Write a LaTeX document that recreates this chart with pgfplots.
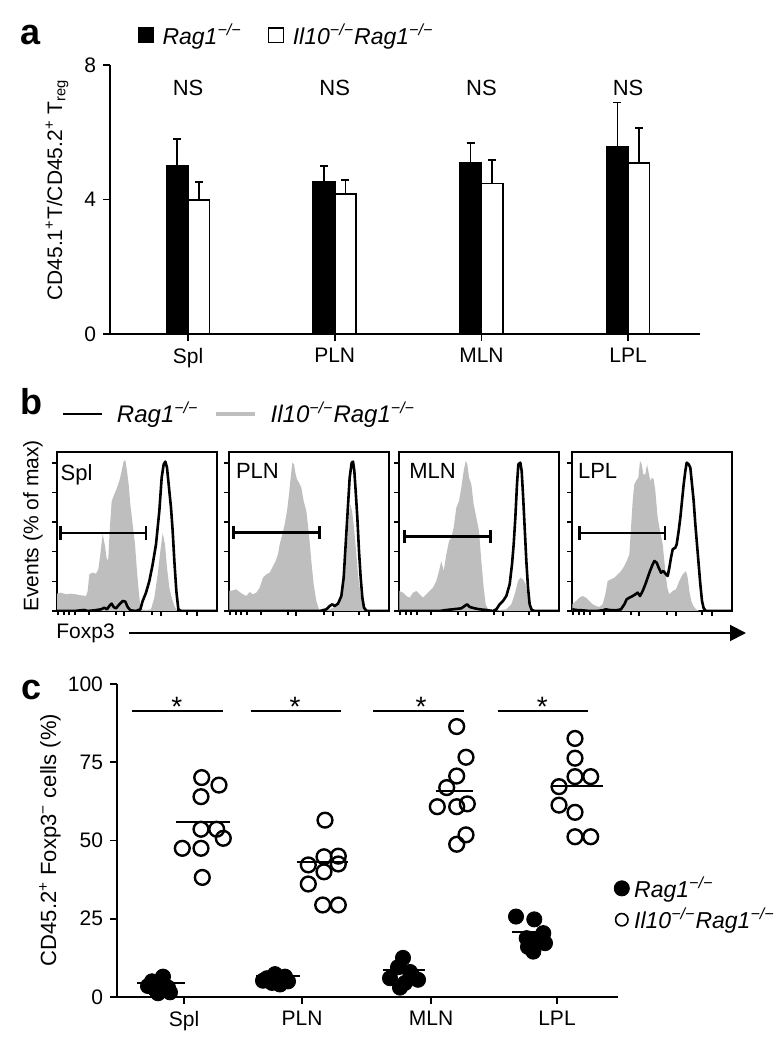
\documentclass[border=0pt]{standalone}
\usepackage{fontspec}
\setmainfont{Liberation Sans}
\usepackage{pgfplots}
\pgfplotsset{compat=1.18}
\usetikzlibrary{arrows.meta}
\definecolor{histgray}{RGB}{190,190,190}
\newcommand{\ko}{\textsuperscript{\textit{−/−}}}
\newcommand{\Rag}{\textit{Rag1}\ko}
\newcommand{\IlRag}{\textit{Il10}\ko\textit{Rag1}\ko}
\pgfplotsset{
 fig/.style={scale only axis, anchor=south west,
   font=\fontsize{10.5}{12}\selectfont,
   tick label style={font=\fontsize{10.5}{12}\selectfont},
   /pgf/number format/assume math mode=true,
   axis line style={line width=0.8pt},
   tick style={line width=0.8pt, black},
   major tick length=3.5pt, tick align=outside, clip=false},
 hist/.style={scale only axis, anchor=south west, width=80pt, height=79.5pt,
   xmin=8, xmax=488, ymin=0, ymax=477,
   axis line style={line width=1pt},
   xtick={209,320,428}, extra x ticks={11,29,44,62,104,185,293,398},
   extra x tick style={major tick length=1.8pt},
   extra x tick labels={},
   ytick={0,89,178,267,356,444}, xticklabels={}, yticklabels={},
   tick align=outside, major tick length=2.5pt,
   tick style={line width=0.6pt, black}, tick pos=left, clip=true,
   font=\fontsize{11}{12}\selectfont},
 gfill/.style={fill=histgray, draw=none, forget plot},
 bline/.style={black, line width=1.3pt, line join=round, forget plot},
 gate/.style={black, line width=1.3pt, forget plot},
}
\begin{document}
\begin{tikzpicture}
\path[use as bounding box] (0,0) rectangle (390pt,525pt);

% ---------------- panel a ----------------
\node[font=\fontsize{18}{20}\selectfont\bfseries, anchor=base] at (15.5pt,502.5pt) {a};
\node[rotate=90, font=\fontsize{10.5}{12}\selectfont] at (28.5pt,430pt)
  {CD45.1\textsuperscript{+}T/CD45.2\textsuperscript{+} T\textsubscript{reg}};
\begin{axis}[fig, at={(55pt,358pt)}, width=295pt, height=134.5pt,
  xmin=-0.532, xmax=3.49, ymin=0, ymax=8,
  axis x line*=bottom, axis y line*=left,
  xtick={0,1,2,3}, xticklabels={Spl,PLN,MLN,LPL}, ytick={0,4,8},
  legend style={at={(axis description cs:0.046,1.11)}, anchor=west, draw=none, fill=none,
    inner sep=0pt, legend columns=2, font=\fontsize{11.5}{13}\selectfont,
    /tikz/every even column/.append style={column sep=11pt}},
  legend cell align=left]
\addlegendimage{legend image code/.code={\draw[fill=black,line width=0.6pt] (0pt,-3.7pt) rectangle (7.4pt,3.7pt); \path (10pt,0pt);}}
\addlegendentry{\Rag}
\addlegendimage{legend image code/.code={\draw[fill=white,line width=0.6pt] (0pt,-3.7pt) rectangle (7.4pt,3.7pt); \path (10pt,0pt);}}
\addlegendentry{\IlRag}
\addplot[ybar, bar shift=0pt, bar width=0.1466, fill=black, draw=black, line width=0.8pt, forget plot,
  error bars/.cd, y dir=plus, y explicit, error bar style={line width=0.8pt},
  error mark options={line width=0.8pt, mark size=2pt, rotate=90}]
  table[x=x, y=y, y error=e] {
x y e
-0.0733 5.00 0.80
0.9267 4.53 0.47
1.9267 5.10 0.58
2.9267 5.57 1.32
};
\addplot[ybar, bar shift=0pt, bar width=0.1466, fill=white, draw=black, line width=0.8pt, forget plot,
  error bars/.cd, y dir=plus, y explicit, error bar style={line width=0.8pt},
  error mark options={line width=0.8pt, mark size=2pt, rotate=90}]
  table[x=x, y=y, y error=e] {
x y e
0.0733 3.99 0.53
1.0733 4.17 0.41
2.0733 4.47 0.71
3.0733 5.09 1.04
};
\node[font=\fontsize{11}{12}\selectfont] at (axis cs:0,7.32) {NS};
\node[font=\fontsize{11}{12}\selectfont] at (axis cs:1,7.32) {NS};
\node[font=\fontsize{11}{12}\selectfont] at (axis cs:2,7.32) {NS};
\node[font=\fontsize{11}{12}\selectfont] at (axis cs:3,7.32) {NS};
\end{axis}

% ---------------- panel b ----------------
\node[font=\fontsize{18}{20}\selectfont\bfseries, anchor=base] at (15.5pt,317.5pt) {b};
\node[rotate=90, font=\fontsize{10.5}{12}\selectfont] at (16.5pt,262pt) {Events (\% of max)};
\node[anchor=west, inner sep=0pt, font=\fontsize{10.5}{12}\selectfont] at (28pt,208.5pt) {Foxp3};
\draw[line width=1pt, -{Triangle[length=8pt,width=8pt]}] (64.5pt,208.5pt) -- (373pt,208.5pt);

\begin{axis}[hist, at={(28.5pt,219.5pt)},
  legend style={at={(axis description cs:0.025,1.239)}, anchor=west, draw=none, fill=none,
    inner sep=0pt, legend columns=2, font=\fontsize{12}{14}\selectfont,
    /tikz/every even column/.append style={column sep=6pt}},
  legend cell align=left,
  legend image code/.code={\draw[#1] (0pt,0pt) -- (19.5pt,0pt); \path (24.5pt,0pt);}]
\addlegendimage{black, line width=1.3pt}
\addlegendentry{\Rag}
\addlegendimage{histgray, line width=1.6pt}
\addlegendentry{\IlRag}
\addplot[gfill] coordinates {(8,52)(20,55)(35,50)(50,52)(65,50)(80,47)(95,45)(100,60)(105,110)(115,115)(125,112)(132,125)(138,170)(145,231)(152,195)(158,150)(162,160)(166,240)(172,330)(180,350)(188,370)(195,390)(202,420)(208,450)(213,452)(218,420)(223,380)(228,320)(235,260)(242,200)(248,120)(254,50)(258,15)(262,5)(275,3)(290,5)(300,40)(310,110)(318,180)(325,234)(332,200)(338,130)(345,70)(352,40)(360,15)(368,0)} \closedcycle;
\addplot[bline] coordinates {(8,0)(60,0)(90,3)(100,0)(120,2)(140,5)(150,10)(158,5)(165,15)(172,22)(178,12)(185,8)(195,20)(205,30)(213,28)(220,12)(228,2)(245,0)(258,5)(265,30)(275,55)(285,90)(295,140)(305,200)(315,300)(322,400)(328,440)(333,448)(338,430)(343,380)(350,310)(355,240)(360,150)(366,60)(372,5)(380,0)(488,0)};
\addplot[gate] coordinates {(18,234)(275,234)};
\addplot[gate] coordinates {(18,214)(18,254)};
\addplot[gate] coordinates {(275,214)(275,254)};
\node[anchor=north west, inner sep=0pt] at (axis cs:18,441) {Spl};
\end{axis}

\begin{axis}[hist, at={(114.5pt,219.5pt)}]
\addplot[gfill] coordinates {(9,60)(20,62)(30,65)(40,57)(50,50)(60,45)(70,57)(80,50)(90,55)(100,70)(110,100)(120,110)(130,115)(140,135)(148,150)(155,170)(160,200)(168,230)(175,260)(182,300)(188,350)(193,400)(198,445)(203,440)(208,410)(212,395)(218,385)(225,370)(232,330)(240,300)(248,230)(255,150)(262,80)(270,30)(278,5)(290,0)(310,5)(330,15)(345,40)(355,100)(362,200)(368,290)(372,320)(377,300)(383,250)(390,170)(396,100)(403,50)(410,25)(418,10)(430,0)} \closedcycle;
\addplot[bline] coordinates {(9,0)(280,0)(300,5)(310,15)(318,20)(325,15)(335,22)(345,45)(352,100)(358,200)(364,300)(370,400)(376,445)(380,448)(384,420)(388,360)(393,280)(398,180)(403,100)(408,40)(413,10)(420,0)(488,0)};
\addplot[gate] coordinates {(22,236)(280,236)};
\addplot[gate] coordinates {(22,216)(22,256)};
\addplot[gate] coordinates {(280,216)(280,256)};
\node[anchor=north west, inner sep=0pt] at (axis cs:28,444) {PLN};
\end{axis}

\begin{axis}[hist, at={(199.5pt,219.5pt)}]
\addplot[gfill] coordinates {(9,60)(20,55)(30,45)(40,40)(50,55)(60,60)(70,50)(80,40)(90,50)(100,60)(110,70)(120,90)(128,120)(135,150)(142,120)(150,170)(158,210)(165,220)(172,250)(180,310)(188,330)(195,370)(202,420)(208,450)(213,440)(218,400)(225,380)(232,320)(240,280)(248,240)(255,150)(262,70)(268,20)(275,5)(290,0)(330,5)(345,20)(355,50)(365,90)(372,100)(380,95)(388,80)(395,40)(402,15)(410,5)(420,0)} \closedcycle;
\addplot[bline] coordinates {(9,0)(130,0)(150,3)(170,5)(195,8)(205,15)(212,20)(220,12)(235,8)(250,5)(270,3)(290,0)(300,5)(310,20)(320,30)(330,45)(340,80)(347,140)(352,200)(357,280)(362,380)(366,440)(372,445)(376,420)(380,350)(385,250)(390,150)(395,70)(400,20)(406,3)(415,0)(488,0)};
\addplot[gate] coordinates {(25,224)(282,224)};
\addplot[gate] coordinates {(25,204)(25,244)};
\addplot[gate] coordinates {(282,204)(282,244)};
\node[anchor=north west, inner sep=0pt] at (axis cs:38,444) {MLN};
\end{axis}

\begin{axis}[hist, at={(286pt,219.5pt)}]
\addplot[gfill] coordinates {(9,20)(20,30)(30,40)(40,45)(50,40)(60,30)(70,20)(80,15)(90,12)(100,20)(108,50)(115,90)(125,95)(135,100)(145,110)(155,120)(165,135)(172,150)(180,170)(185,250)(190,330)(195,380)(200,390)(207,400)(212,450)(217,440)(222,410)(228,410)(233,440)(237,420)(243,390)(248,400)(253,395)(258,360)(265,280)(272,240)(280,200)(288,120)(294,70)(300,50)(310,60)(320,65)(330,90)(340,110)(350,120)(355,100)(360,60)(366,30)(372,15)(380,5)(390,0)} \closedcycle;
\addplot[bline] coordinates {(9,5)(20,3)(40,2)(60,0)(80,0)(100,2)(110,5)(120,3)(140,2)(155,5)(165,20)(172,35)(180,40)(190,45)(198,50)(205,55)(212,45)(220,60)(228,80)(235,100)(242,120)(250,140)(255,150)(262,145)(268,130)(275,115)(282,120)(290,110)(295,105)(300,130)(305,160)(310,185)(318,190)(322,200)(328,240)(333,280)(338,330)(343,380)(348,420)(352,445)(358,440)(363,430)(368,380)(373,330)(378,260)(383,200)(388,140)(393,80)(398,30)(403,8)(410,0)(488,0)};
\addplot[gate] coordinates {(30,234)(287,234)};
\addplot[gate] coordinates {(30,214)(30,254)};
\addplot[gate] coordinates {(287,214)(287,254)};
\node[anchor=north west, inner sep=0pt] at (axis cs:25,444) {LPL};
\end{axis}

% ---------------- panel c ----------------
\node[font=\fontsize{18}{20}\selectfont\bfseries, anchor=base] at (16pt,175pt) {c};
\node[rotate=90, font=\fontsize{11}{12}\selectfont] at (25pt,105pt)
  {CD45.2\textsuperscript{+} Foxp3\textsuperscript{−} cells (\%)};
\begin{axis}[fig, at={(58.5pt,26.5pt)}, width=250.5pt, height=156.5pt,
  xmin=117, xmax=618, ymin=0, ymax=100,
  axis x line*=bottom, axis y line*=left,
  xtick={184,302,431,557}, xticklabels={Spl,PLN,MLN,LPL},
  ytick={0,25,50,75,100},
  legend style={at={(axis description cs:0.990,0.297)}, anchor=west, draw=none, fill=none,
    inner sep=0pt, font=\fontsize{11.5}{13}\selectfont, row sep=0pt},
  legend cell align=left,
  legend image code/.code={\draw[#1] plot coordinates {(3.8pt,0pt)}; \path (0pt,0pt) (7.6pt,0pt);}]
\addlegendimage{only marks, mark=*, mark size=3.8pt, black}
\addlegendentry{\Rag}
\addlegendimage{only marks, mark=o, mark size=3.1pt, line width=0.8pt, black}
\addlegendentry{\IlRag}
% significance bars
\addplot[black, line width=0.7pt, forget plot] coordinates {(132.3,91.4)(222.7,91.4)};
\addplot[black, line width=0.7pt, forget plot] coordinates {(250.7,91.4)(340.7,91.4)};
\addplot[black, line width=0.7pt, forget plot] coordinates {(373,91.4)(464,91.4)};
\addplot[black, line width=0.7pt, forget plot] coordinates {(497.7,91.4)(588.3,91.4)};
\node[anchor=base, font=\fontsize{14}{14}\selectfont] at (axis cs:176.7,89.6) {*};
\node[anchor=base, font=\fontsize{14}{14}\selectfont] at (axis cs:295,89.6) {*};
\node[anchor=base, font=\fontsize{14}{14}\selectfont] at (axis cs:421,89.6) {*};
\node[anchor=base, font=\fontsize{14}{14}\selectfont] at (axis cs:542.3,89.6) {*};
% Rag1 filled
\addplot[only marks, mark=*, mark size=3.8pt, black, forget plot] coordinates {
(148,3.5)(155,2.5)(160,4.0)(163,6.5)(168,3.0)(170,1.5)(158,1.2)(152,5.0)
(267,6.0)(275,7.3)(283,5.8)(288,5.0)(272,4.5)(280,4.0)(263,5.2)(285,6.5)
(403,12.5)(398,9.5)(410,8.0)(390,6.0)(405,4.5)(418,5.5)(400,3.0)(412,7.0)
(516,25.7)(534.3,24.8)(543.3,20.4)(526.7,18.8)(545,17.2)(533.3,14.5)(536.7,18.2)(528,16.0)};
% Il10 Rag1 open
\addplot[only marks, mark=o, mark size=3.7pt, line width=1.2pt, black, forget plot] coordinates {
(201.7,70.1)(219,67.7)(201,64.0)(201,53.6)(216.7,53.6)(223.3,50.7)(182.3,47.5)(201,47.5)(202.3,38.2)
(325,56.5)(324,44.8)(338.3,45.0)(308.3,42.2)(338.3,42.5)(324,40.0)(308.3,36.1)(322.7,29.4)(338.3,29.4)
(456.7,86.4)(466,76.6)(456.7,70.6)(446.7,66.9)(437.3,60.8)(456.7,60.8)(467.3,61.7)(466,51.8)(456.7,48.8)
(575,82.6)(575,76.3)(575,70.4)(590.7,70.4)(559,67.2)(559,61.3)(575,59.0)(575,51.2)(590.7,51.2)};
% means
\addplot[black, line width=1pt, forget plot] coordinates {(137,4.6)(185,4.6)};
\addplot[black, line width=1pt, forget plot] coordinates {(256,6.7)(300,6.7)};
\addplot[black, line width=1pt, forget plot] coordinates {(382.7,8.6)(425,8.6)};
\addplot[black, line width=1pt, forget plot] coordinates {(511.7,20.8)(549.3,20.8)};
\addplot[black, line width=1pt, forget plot] coordinates {(175.7,56.0)(230,56.0)};
\addplot[black, line width=1pt, forget plot] coordinates {(296.7,43.0)(348.3,43.0)};
\addplot[black, line width=1pt, forget plot] coordinates {(436,65.8)(473.3,65.8)};
\addplot[black, line width=1pt, forget plot] coordinates {(553.3,67.5)(602.7,67.5)};
\end{axis}
\end{tikzpicture}
\end{document}
